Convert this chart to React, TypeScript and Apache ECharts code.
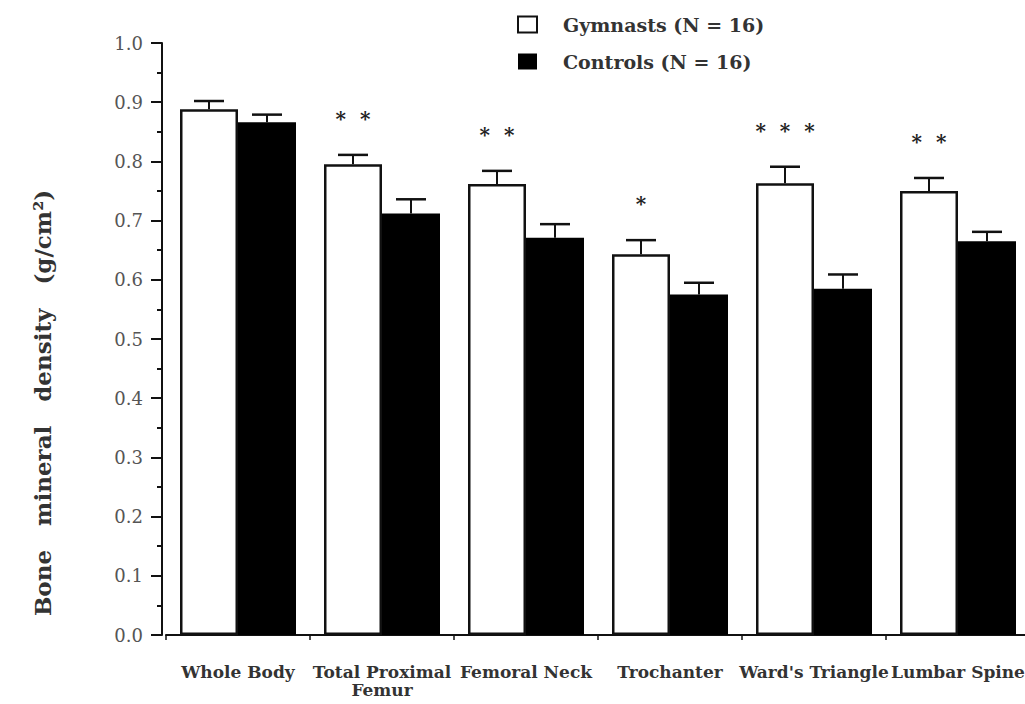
import React, { useEffect, useRef } from "react";
import * as echarts from "echarts";

const categories = [
  "Whole Body",
  "Total Proximal\nFemur",
  "Femoral Neck",
  "Trochanter",
  "Ward's Triangle",
  "Lumbar Spine",
];
const gymnasts = [0.888, 0.795, 0.762, 0.643, 0.763, 0.75];
const gymnastsErr = [0.014, 0.016, 0.022, 0.024, 0.028, 0.022];
const controls = [0.866, 0.712, 0.671, 0.575, 0.585, 0.665];
const controlsErr = [0.013, 0.024, 0.023, 0.02, 0.024, 0.016];
const significance = ["", "*  *", "*  *", "*", "*  *  *", "*  *"];
const yTicks = [0, 0.1, 0.2, 0.3, 0.4, 0.5, 0.6, 0.7, 0.8, 0.9, 1.0];

const FONT = "'DejaVu Serif', 'Liberation Serif', serif";
const BAR_W = 58;

export default function App() {
  const ref = useRef<HTMLDivElement>(null);
  useEffect(() => {
    if (!ref.current) return;
    const chart = echarts.init(ref.current, undefined, { renderer: "svg" });

    const errSeries = (vals: number[], errs: number[], shift: number, stars: string[] | null) => ({
      type: "custom",
      silent: true,
      z: 5,
      data: vals.map((v, i) => [i, v, errs[i], stars ? stars[i] : ""]),
      renderItem: (params: any, api: any) => {
        const i = api.value(0);
        const v = api.value(1);
        const e = api.value(2);
        const base = api.coord([i, v]);
        const top = api.coord([i, v + e]);
        const x = base[0] + shift;
        const children: any[] = [
          { type: "line", shape: { x1: x, y1: base[1], x2: x, y2: top[1] }, style: { stroke: "#111", lineWidth: 2 } },
          { type: "line", shape: { x1: x - 15, y1: top[1], x2: x + 15, y2: top[1] }, style: { stroke: "#111", lineWidth: 2.5 } },
        ];
        const s = stars ? stars[i] : "";
        if (s) {
          children.push({
            type: "text",
            x: x,
            y: top[1] - 36,
            style: {
              text: s,
              font: `bold 20px ${FONT}`,
              fill: "#222",
              textAlign: "center",
              textVerticalAlign: "middle",
            },
          });
        }
        return { type: "group", children };
      },
    });

    chart.setOption({
      animation: false,
      backgroundColor: "#ffffff",
      grid: { left: 166, right: -5, top: 43, bottom: 69, outerBoundsMode: "none", containLabel: false },
      legend: {
        orient: "vertical",
        left: 512,
        top: 10,
        itemWidth: 19,
        itemHeight: 16,
        itemGap: 18,
        icon: "rect",
        textStyle: { fontFamily: FONT, fontWeight: "bold", fontSize: 19, color: "#333", padding: [0, 0, 0, 21] },
        data: ["Gymnasts (N = 16)", "Controls (N = 16)"],
      },
      xAxis: {
        type: "category",
        data: categories,
        axisLine: { lineStyle: { color: "#111", width: 2 } },
        axisTick: { show: true, length: 5, lineStyle: { color: "#111", width: 1.5 } },
        axisLabel: {
          interval: 0,
          margin: 28,
          fontFamily: FONT,
          fontWeight: "bold",
          fontSize: 17,
          lineHeight: 18,
          color: "#333",
        },
      },
      yAxis: {
        type: "value",
        min: 0,
        max: 1,
        interval: 0.1,
        offset: 4,
        splitLine: { show: false },
        axisLine: { show: true, lineStyle: { color: "#111", width: 2 } },
        axisTick: { show: true, length: 11, lineStyle: { color: "#111", width: 2 } },
        minorTick: { show: true, splitNumber: 2, length: 5, lineStyle: { color: "#111", width: 2 } },
        axisLabel: {
          margin: 19,
          fontFamily: FONT,
          fontSize: 18,
          color: "#555",
          formatter: (v: number) => {
            const t = yTicks.find((y) => Math.abs(y - v) < 1e-6);
            return (t ?? v).toFixed(1);
          },
        },
      },
      graphic: [
        {
          type: "text",
          x: 42,
          y: 403,
          rotation: Math.PI / 2,
          style: {
            text: "Bone   mineral   density   (g/cm²)",
            font: `bold 23px ${FONT}`,
            fill: "#333",
            textAlign: "center",
            textVerticalAlign: "middle",
          },
        },
      ],
      series: [
        {
          name: "Gymnasts (N = 16)",
          type: "bar",
          data: gymnasts,
          barWidth: BAR_W,
          barGap: "0%",
          itemStyle: { color: "#ffffff", borderColor: "#111", borderWidth: 2.5 },
        },
        {
          name: "Controls (N = 16)",
          type: "bar",
          data: controls,
          barWidth: BAR_W,
          barGap: "0%",
          itemStyle: { color: "#000000", borderColor: "#000", borderWidth: 0 },
        },
        errSeries(gymnasts, gymnastsErr, -BAR_W / 2, significance),
        errSeries(controls, controlsErr, BAR_W / 2, null),
      ],
    });
    return () => chart.dispose();
  }, []);
  return <div ref={ref} style={{ position: "fixed", left: 0, top: 0, width: 1025, height: 704 }} />;
}
